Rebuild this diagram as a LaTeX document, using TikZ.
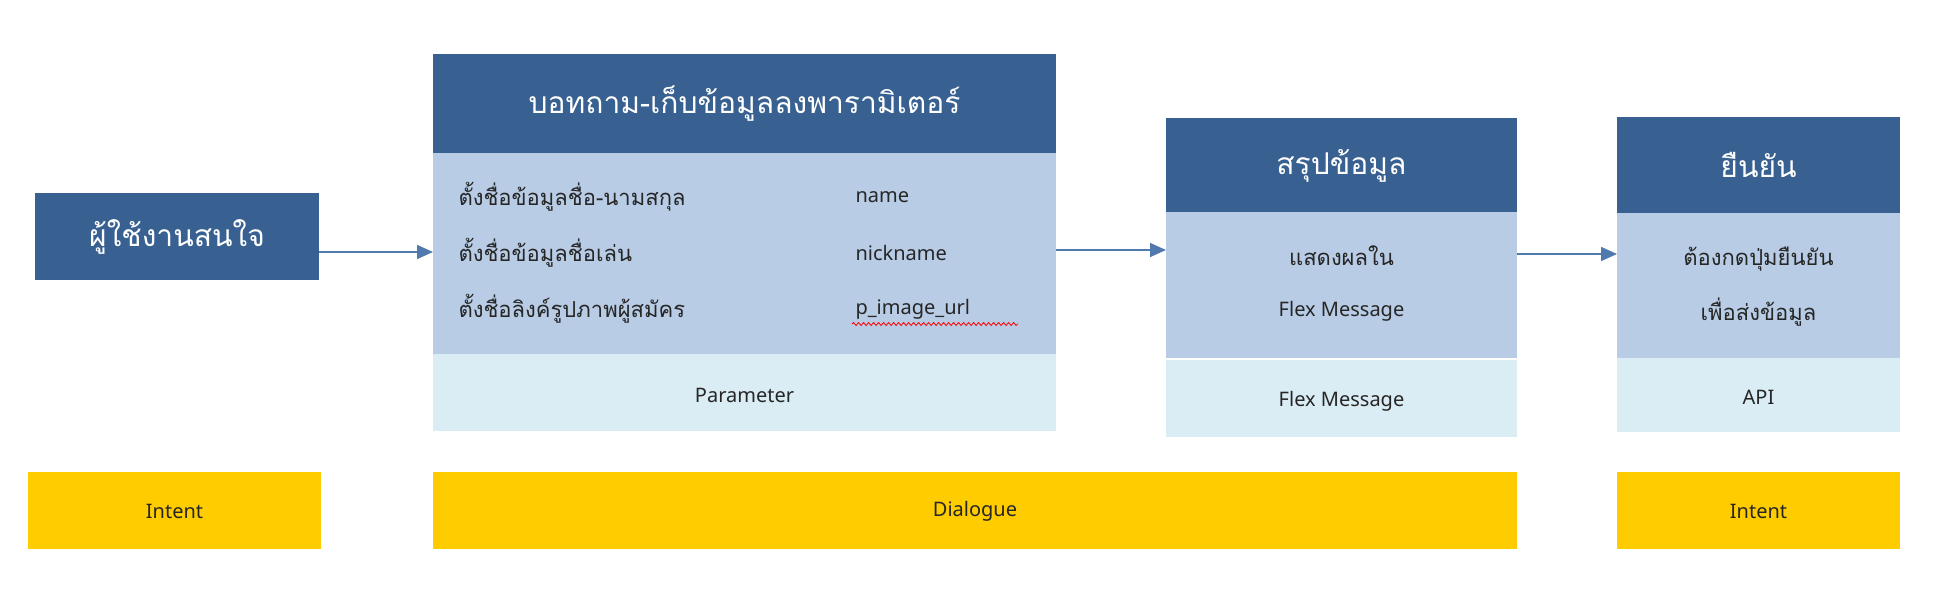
\documentclass[tikz,border=0pt]{standalone}
\usepackage{fontspec}
\setmainfont{Noto Sans}
\newfontfamily\thai[Script=Thai]{Loma}
\usetikzlibrary{arrows.meta,decorations.pathmorphing}
\definecolor{dkb}{HTML}{386192}
\definecolor{ltb}{HTML}{B8CCE5}
\definecolor{lsb}{HTML}{DBEDF4}
\definecolor{ylw}{HTML}{FFCC00}
\definecolor{arr}{HTML}{5079AD}
\begin{document}
\begin{tikzpicture}[x=1pt,y=-1pt,
  blk/.style={inner sep=0pt},
  hdr/.style={font=\thai\fontsize{30}{34}\selectfont,text=white},
  body/.style={font=\thai\fontsize{22}{26}\selectfont,text=black!85},
  lat/.style={font=\fontsize{20}{24}\selectfont,text=black!85},
  conn/.style={draw=arr,line width=1.5pt,-{Triangle[length=16pt,width=14pt]}}]
\useasboundingbox (0,0) rectangle (1935,596);
% left box
\fill[dkb] (35,193) rectangle (319,280);
\node[hdr] (u) at (177,236.5) {ผู้ใช้งานสนใจ};
\coordinate (ue) at (319,252);
% big box
\fill[dkb] (433,54) rectangle (1056,153);
\fill[ltb] (433,153) rectangle (1056,354);
\fill[lsb] (433,354) rectangle (1056,431);
\node[hdr] (h1) at (744.5,104) {บอทถาม-เก็บข้อมูลลงพารามิเตอร์};
\node[body,anchor=west] (r1) at (455,197) {ตั้งชื่อข้อมูลชื่อ-นามสกุล};
\node[body,anchor=west] (r2) at (455,253) {ตั้งชื่อข้อมูลชื่อเล่น};
\node[body,anchor=west] (r3) at (455,309) {ตั้งชื่อลิงค์รูปภาพผู้สมัคร};
\node[lat,anchor=west] (p1) at (852,197) {name};
\node[lat,anchor=west] (p2) at (852,253) {nickname};
\node[lat,anchor=west] (p3) at (852,309) {p\_image\_url};
\draw[red,line width=0.8pt,decorate,decoration={snake,amplitude=1.5pt,segment length=5pt}] (852,324) -- (1018,324);
\node[lat] (pm) at (744.5,395) {Parameter};
\coordinate (bw) at (433,252);
\coordinate (be) at (1056,250);
% middle box
\fill[dkb] (1166,118) rectangle (1517,212);
\fill[ltb] (1166,212) rectangle (1517,358);
\fill[lsb] (1166,360) rectangle (1517,437);
\node[hdr] (h2) at (1341.5,166) {สรุปข้อมูล};
\node[body] (m1) at (1341.5,256) {แสดงผลใน};
\node[lat] (m2) at (1341.5,311) {Flex Message};
\node[lat] (m3) at (1341.5,401) {Flex Message};
\coordinate (mw) at (1166,250);
\coordinate (me) at (1517,254);
% right box
\fill[dkb] (1617,117) rectangle (1900,213);
\fill[ltb] (1617,213) rectangle (1900,358);
\fill[lsb] (1617,358) rectangle (1900,432);
\node[hdr] (h3) at (1758.5,165) {ยืนยัน};
\node[body] (c1) at (1758.5,259) {ต้องกดปุ่มยืนยัน};
\node[body] (c2) at (1758.5,312) {เพื่อส่งข้อมูล};
\node[lat] (c3) at (1758.5,397) {API};
\coordinate (cw) at (1617,254);
% yellow bars
\fill[ylw] (28,472) rectangle (321,549);
\fill[ylw] (433,472) rectangle (1517,549);
\fill[ylw] (1617,472) rectangle (1900,549);
\node[lat] (i1) at (174.5,511) {Intent};
\node[lat] (d1) at (975,511) {Dialogue};
\node[lat] (i2) at (1758.5,511) {Intent};
% connectors
\draw[conn] (ue) -- (bw);
\draw[conn] (be) -- (mw);
\draw[conn] (me) -- (cw);
\end{tikzpicture}
\end{document}
